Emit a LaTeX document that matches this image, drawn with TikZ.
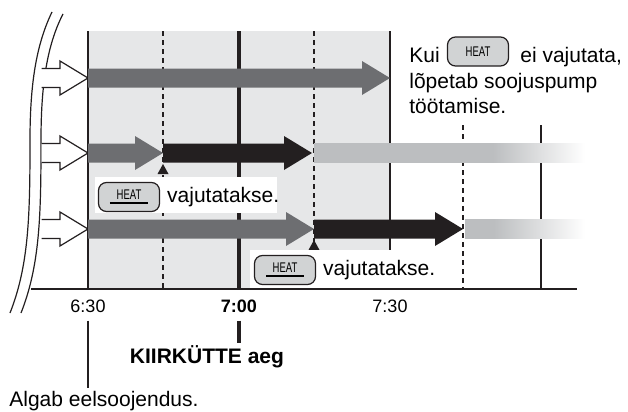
\documentclass[tikz,border=0pt]{standalone}
\usepackage{fontspec}
\setmainfont{Liberation Sans}
\usepackage{graphicx}
\usetikzlibrary{positioning}

\definecolor{zonegray}{HTML}{E6E7E8}
\definecolor{arrgray}{HTML}{6D6E71}
\definecolor{arrblack}{HTML}{231F20}
\definecolor{fadegray}{HTML}{BCBEC0}
\definecolor{btngray}{HTML}{D1D3D4}

% fading tails of the bars (25bp = left end, 75bp = right end)
\pgfdeclarehorizontalshading{fadelong}{100bp}{color(0bp)=(fadegray); color(58bp)=(fadegray); color(75bp)=(white); color(100bp)=(white)}
\pgfdeclarehorizontalshading{fadeshort}{100bp}{color(0bp)=(fadegray); color(37bp)=(fadegray); color(75bp)=(white); color(100bp)=(white)}

\newcommand{\heatlabel}{\scalebox{0.68}[1]{\fontsize{7}{7}\selectfont HEAT}}
\newcommand{\heatpressed}{\vbox{\hbox to 19pt{\hss\heatlabel\hss}\kern1.6pt\hrule height 1pt}}

\begin{document}
\begin{tikzpicture}[x=0.5pt,y=-0.5pt,font=\fontsize{10.5}{12.5}\selectfont,
  thin line/.style={arrblack,line width=0.6pt},
  dash line/.style={arrblack,line width=0.6pt,dash pattern=on 2.5pt off 2pt},
  heatbtn/.style={draw=arrblack,fill=btngray,rounded corners=4pt,line width=0.6pt,
    minimum width=30.5pt,minimum height=14.5pt,inner sep=0pt},
  timelbl/.style={font=\fontsize{9}{10}\selectfont,anchor=base,inner sep=1pt}]
\path[use as bounding box] (0,0) rectangle (628,412);
% shaded period and grid
\fill[zonegray] (88,31) rectangle (390,289);
\draw[thin line] (88,31) -- (88,289);
\draw[thin line] (390,31) -- (390,289);
\draw[thin line] (541,125) -- (541,289);
\draw[dash line] (163,31) -- (163,289);
\draw[dash line] (314,31) -- (314,289);
\draw[dash line] (463,125) -- (463,289);
\draw[arrblack,line width=2.4pt] (239,31) -- (239,289);
\draw[thin line] (31,289) -- (577,289);
% break marks
\draw[thin line] (52,12) .. controls (36,45) and (30,85) .. (30,140)
  .. controls (30,215) and (29,265) .. (10,313);
\draw[thin line] (63,14) .. controls (47,45) and (41,85) .. (41,140)
  .. controls (41,215) and (40,265) .. (21,313);
% incoming arrows
\foreach \ya in {78,153,229}
  \draw[thin line,fill=white] (41.5,\ya-9.5) -- (60,\ya-9.5) -- (60,\ya-17) -- (88,\ya)
    -- (60,\ya+17) -- (60,\ya+9.5) -- (41.5,\ya+9.5);
% operation bars
\foreach \ya/\xa/\xb/\col in {78/88/390/arrgray,153/88/163/arrgray,153/163/312/arrblack,
    229/88/314/arrgray,229/314/463/arrblack}
  \fill[\col] (\xa,\ya-9.5) -- (\xb-28,\ya-9.5) -- (\xb-28,\ya-17) -- (\xb,\ya)
    -- (\xb-28,\ya+17) -- (\xb-28,\ya+9.5) -- (\xa,\ya+9.5) -- cycle;
\shade[shading=fadelong] (314,143.5) rectangle (585,162.5);
\shade[shading=fadeshort] (465,219.5) rectangle (585,238.5);
\fill[arrblack] (163,164) -- (168.5,174) -- (157.5,174) -- cycle;
\fill[arrblack] (314,240) -- (319.5,250) -- (308.5,250) -- cycle;
% HEAT pressed labels
\fill[white] (95,177) rectangle (277,213);
\fill[white] (250,250) rectangle (459,288);
\node[heatbtn] (btnA) at (129,197) {\heatpressed};
\node[right=0pt of btnA] (pressA) {vajutatakse.};
\node[heatbtn] (btnB) at (285,270) {\heatpressed};
\node[right=0pt of btnB] (pressB) {vajutatakse.};
% not pressed note
\node[anchor=base west,inner sep=0pt] (kui) at (409,62) {Kui};
\node[heatbtn] (btnC) at (478,51.5) {\heatlabel};
\node[anchor=base west,inner sep=0pt] (eivaj) at (520,62) {ei vajutata,};
\node[anchor=base west,inner sep=0pt] (stopA) at (409,89) {lõpetab soojuspump};
\node[anchor=base west,inner sep=0pt] (stopB) at (409,113) {töötamise.};
% time axis
\node[timelbl] (l630) at (88,312) {6:30};
\node[timelbl] (l700) at (239,312) {\bfseries 7:00};
\node[timelbl] (l730) at (390,312) {7:30};
\node[anchor=base,inner sep=1pt] (kiir) at (207,363) {\bfseries KIIRKÜTTE aeg};
\node[anchor=base west,inner sep=1pt] (algab) at (7,406) {Algab eelsoojendus.};
\draw[thin line] ([yshift=-3pt]l630.south) -- (l630.south |- algab.north);
\draw[arrblack,line width=1.6pt] ([yshift=-3pt]l700.south) -- (l700.south |- kiir.north);
\end{tikzpicture}
\end{document}
